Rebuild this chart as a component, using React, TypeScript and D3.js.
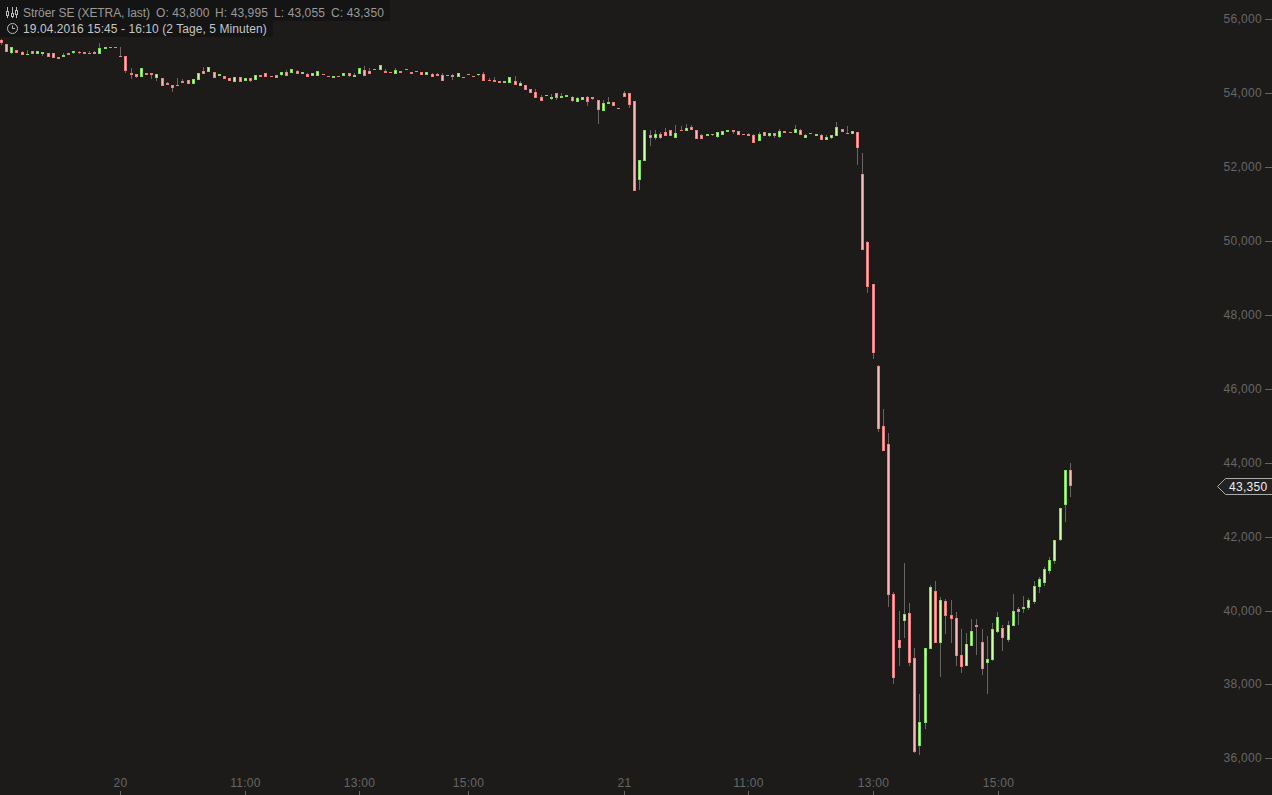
import React from "react";
import * as d3 from "d3";

const opens = [
55.431,55.323,55.080,55.161,55.107,55.026,55.134,55.053,55.053,55.080,
55.080,54.971,54.971,55.080,55.080,55.107,55.107,55.080,55.107,55.053,
55.188,55.242,55.242,54.998,54.998,54.538,54.511,54.430,54.538,54.538,
54.403,54.403,54.268,54.214,54.214,54.322,54.349,54.241,54.349,54.592,
54.565,54.565,54.457,54.457,54.403,54.295,54.430,54.322,54.403,54.349,
54.484,54.538,54.457,54.484,54.484,54.565,54.538,54.592,54.511,54.511,
54.457,54.457,54.511,54.457,54.403,54.457,54.457,54.538,54.430,54.511,
54.620,54.592,54.647,54.620,54.592,54.565,54.511,54.592,54.647,54.565,
54.592,54.565,54.484,54.511,54.511,54.484,54.484,54.484,54.430,54.430,
54.511,54.457,54.484,54.511,54.349,54.349,54.322,54.268,54.268,54.322,
54.186,54.214,54.105,54.024,53.889,53.916,53.835,53.997,53.862,53.889,
53.889,53.753,53.808,53.889,53.889,53.808,53.510,53.699,53.753,53.591,
53.997,53.997,53.780,51.642,52.157,52.860,52.779,52.887,52.942,52.996,
52.779,52.996,52.969,53.077,52.996,52.860,52.833,52.887,52.806,52.860,
52.942,52.996,52.969,52.887,52.887,52.860,52.698,52.942,52.833,52.914,
52.806,52.969,52.942,52.914,52.996,52.779,52.914,52.833,52.860,52.725,
52.779,52.833,53.023,52.914,52.887,52.942,51.805,49.965,48.828,46.609,
44.985,44.498,40.438,39.193,39.707,39.924,38.706,36.324,36.947,38.949,
40.519,39.112,40.249,39.870,39.788,38.787,38.489,39.031,39.599,39.139,
38.571,38.652,39.410,39.518,39.193,39.572,40.032,40.032,40.059,40.222,
40.627,40.736,41.061,41.331,41.899,42.847,43.800];

const closes = [
55.350,55.107,55.242,55.080,55.026,55.053,55.053,55.134,55.107,54.971,
54.944,54.917,55.026,55.026,55.134,55.080,55.053,55.053,55.053,55.215,
55.242,55.215,55.215,54.971,54.592,54.484,54.430,54.674,54.484,54.484,
54.511,54.186,54.214,54.132,54.186,54.268,54.241,54.376,54.538,54.511,
54.701,54.403,54.511,54.376,54.322,54.430,54.295,54.403,54.322,54.484,
54.430,54.430,54.430,54.403,54.565,54.457,54.647,54.511,54.565,54.430,
54.538,54.592,54.484,54.430,54.457,54.430,54.538,54.457,54.484,54.674,
54.457,54.511,54.620,54.755,54.538,54.538,54.620,54.538,54.620,54.511,
54.565,54.484,54.565,54.430,54.457,54.322,54.457,54.430,54.538,54.403,
54.484,54.430,54.511,54.322,54.322,54.295,54.268,54.322,54.430,54.214,
54.268,54.078,53.997,53.862,53.780,53.943,53.889,53.862,53.916,53.943,
53.780,53.862,53.889,53.753,53.835,53.537,53.726,53.753,53.645,53.564,
53.889,53.672,51.345,52.184,52.996,52.779,52.887,52.779,52.833,52.833,
52.914,52.969,53.050,52.996,52.752,52.752,52.887,52.860,52.942,52.969,
52.996,52.942,52.860,52.860,52.833,52.644,52.887,52.833,52.914,52.833,
52.969,52.914,52.914,53.023,52.860,52.860,52.887,52.887,52.725,52.806,
52.860,53.077,52.942,52.887,52.969,52.509,49.748,48.747,46.960,44.904,
44.308,40.411,38.165,38.976,39.897,38.571,36.162,36.974,38.976,40.627,
39.112,40.276,39.843,39.761,38.760,38.462,39.085,39.437,39.545,38.408,
38.679,39.491,39.816,39.247,39.599,39.978,39.951,40.086,40.276,40.655,
40.844,41.115,41.358,41.899,42.766,43.800,43.350];

const highs = [
55.459,55.323,55.242,55.161,55.134,55.161,55.134,55.134,55.107,55.080,
55.080,54.971,55.080,55.080,55.134,55.134,55.107,55.134,55.134,55.350,
55.242,55.242,55.242,55.242,54.998,54.674,54.511,54.674,54.538,54.538,
54.511,54.403,54.295,54.214,54.403,54.376,54.349,54.376,54.538,54.701,
54.701,54.565,54.511,54.457,54.403,54.430,54.430,54.403,54.403,54.484,
54.484,54.538,54.457,54.484,54.565,54.620,54.647,54.620,54.565,54.538,
54.538,54.592,54.511,54.457,54.457,54.457,54.538,54.538,54.538,54.674,
54.728,54.674,54.647,54.755,54.647,54.565,54.674,54.592,54.647,54.565,
54.592,54.565,54.565,54.538,54.538,54.538,54.484,54.511,54.538,54.430,
54.511,54.457,54.511,54.565,54.403,54.430,54.322,54.322,54.430,54.457,
54.322,54.214,54.105,54.105,53.943,53.943,53.970,53.997,53.997,53.943,
53.916,53.889,53.889,53.916,53.889,53.808,53.808,53.889,53.753,53.591,
54.051,53.997,53.780,52.184,52.996,52.996,52.996,52.942,53.050,52.996,
53.131,53.104,53.158,53.131,52.996,52.887,52.887,52.887,52.942,52.969,
52.996,52.996,52.969,52.887,52.914,52.887,52.942,52.942,52.914,52.914,
53.023,52.969,52.942,53.131,53.023,52.887,52.914,52.887,52.887,52.860,
52.860,53.212,53.023,53.104,52.969,52.942,52.373,49.992,48.828,46.636,
45.445,44.795,40.492,39.978,41.277,40.195,38.976,37.732,38.976,40.682,
40.790,40.357,40.303,40.276,39.951,39.491,39.383,39.761,39.761,39.491,
39.301,39.653,39.951,39.599,39.707,40.438,40.086,40.384,40.330,40.790,
40.898,41.169,41.440,41.899,42.766,43.800,43.995];

const lows = [
55.296,55.107,55.053,55.080,55.026,55.026,55.053,55.053,54.998,54.971,
54.944,54.917,54.971,55.026,55.053,55.053,55.053,55.053,55.053,55.053,
55.188,55.215,55.215,54.971,54.538,54.376,54.403,54.430,54.484,54.376,
54.322,54.186,54.214,54.024,54.186,54.268,54.241,54.241,54.349,54.511,
54.565,54.403,54.457,54.376,54.322,54.295,54.295,54.322,54.295,54.349,
54.430,54.430,54.430,54.403,54.457,54.457,54.538,54.511,54.511,54.430,
54.457,54.457,54.484,54.430,54.403,54.430,54.457,54.430,54.430,54.511,
54.457,54.511,54.620,54.620,54.538,54.538,54.511,54.538,54.620,54.511,
54.565,54.484,54.484,54.430,54.457,54.322,54.457,54.349,54.430,54.403,
54.484,54.430,54.457,54.322,54.322,54.295,54.268,54.268,54.268,54.214,
54.186,54.078,53.997,53.862,53.780,53.916,53.808,53.808,53.862,53.889,
53.753,53.753,53.808,53.645,53.808,53.158,53.510,53.699,53.645,53.564,
53.889,53.591,51.345,51.372,52.157,52.563,52.725,52.752,52.833,52.833,
52.779,52.969,52.969,52.996,52.752,52.752,52.833,52.833,52.779,52.860,
52.942,52.887,52.860,52.860,52.833,52.644,52.698,52.833,52.806,52.779,
52.779,52.914,52.914,52.914,52.860,52.779,52.887,52.833,52.725,52.725,
52.752,52.833,52.942,52.887,52.887,52.049,49.748,48.584,46.798,44.822,
44.308,40.086,38.002,38.489,39.247,38.489,36.135,36.081,36.784,38.949,
39.112,38.192,39.355,39.112,38.489,38.300,38.489,39.031,38.787,38.246,
37.732,38.625,39.383,38.895,39.139,39.572,39.599,39.924,40.005,40.167,
40.465,40.655,40.980,41.250,41.872,42.387,43.055];

const priceTicks = [56, 54, 52, 50, 48, 46, 44, 42, 40, 38, 36];
const timeTickIndex = [23, 47, 69, 90, 120, 144, 168, 192];
const timeTickLabels = ["20", "11:00", "13:00", "15:00", "21", "11:00", "13:00", "15:00"];
const lastPrice = 43.35;
const titleParts = ["Ströer SE (XETRA, last)", "O: 43,800", "H: 43,995", "L: 43,055", "C: 43,350"];
const subtitle = "19.04.2016 15:45 - 16:10 (2 Tage, 5 Minuten)";

const W = 1272;
const H = 795;
const FONT = "'Liberation Sans', Arial, sans-serif";
const BG = "#1c1b1a";

export default function App() {
  const x = d3.scaleLinear().domain([0, 206]).range([1.3, 1070.4]);
  const y = d3.scaleLinear().domain([36, 56]).range([758, 19]);
  const fmt = d3.formatLocale({ decimal: ",", thousands: ".", grouping: [3], currency: ["", ""] }).format(".3f");

  return (
    <svg width={W} height={H} viewBox={`0 0 ${W} ${H}`} style={{ position: "fixed", left: 0, top: 0, display: "block", background: BG }} fontFamily={FONT}>
      <rect width={W} height={H} fill={BG} />
      <rect x={0} y={0} width={390} height={21} fill="#141414" />
      <rect x={0} y={21} width={273} height={16} fill="#141414" />

      {/* wicks */}
      {opens.map((_, i) => {
        const col = Math.floor(x(i));
        const t = Math.round(y(highs[i]));
        const b = Math.round(y(lows[i]));
        return <rect key={i} x={col} y={t} width={1} height={Math.max(1, b - t)} fill="#666" />;
      })}
      {/* bodies */}
      {opens.map((o, i) => {
        const c = closes[i];
        const up = c > o;
        const col = Math.floor(x(i));
        const t = Math.round(y(Math.max(o, c)));
        const b = Math.round(y(Math.min(o, c)));
        const h = Math.max(1, b - t);
        return (
          <g key={i}>
            <rect x={col - 1} y={t} width={3} height={h} fill={up ? "#84dc5c" : "#ee8080"} />
            {h > 2 && <rect x={col} y={t + 1} width={1} height={h - 2} fill={up ? "#ccffa8" : "#ffb6b6"} />}
          </g>
        );
      })}

      {/* right axis */}
      {priceTicks.map((p) => {
        const py = Math.round(y(p) + 0.35);
        return (
          <g key={p}>
            <text x={1262} y={py + 4} textAnchor="end" fontSize={12} fill="#666" letterSpacing={0.3}>{fmt(p)}</text>
            <rect x={1265} y={py} width={7} height={1} fill="#666" />
          </g>
        );
      })}

      {/* bottom axis */}
      {timeTickIndex.map((t, i) => {
        const tx = Math.floor(x(t) + 0.3);
        return (
          <g key={i}>
            <text x={tx + 0.5} y={787} textAnchor="middle" fontSize={12} fill="#666" letterSpacing={0.3}>{timeTickLabels[i]}</text>
            <rect x={tx} y={791} width={1} height={4} fill="#666" />
          </g>
        );
      })}

      {/* last price tag */}
      <path
        d={`M1272.5 ${Math.round(y(lastPrice)) - 7.5}H1225.5L1217.5 ${Math.round(y(lastPrice)) + 0.5}L1225.5 ${Math.round(y(lastPrice)) + 8.5}H1272.5`}
        fill="#222"
        stroke="#aaa"
      />
      <text x={1229} y={Math.round(y(lastPrice)) + 5} fontSize={12} fill="#eee" letterSpacing={0.3}>{fmt(lastPrice)}</text>

      {/* title icons */}
      <g stroke="#bbb" fill="none">
        <path d="M7.5 7V18M12.5 7V18M16.5 7V18" />
        <rect x={6.5} y={11.5} width={2} height={4} fill="#141414" />
        <rect x={11.5} y={13.5} width={2} height={3} fill="#141414" />
        <rect x={15.5} y={10.5} width={2} height={4} fill="#141414" />
        <circle cx={12.5} cy={28.5} r={5} />
        <path d="M12.5 25.5V28.5H15" />
      </g>

      {/* title */}
      <text y={17} fontSize={12} fill="#999">
        <tspan x={23} letterSpacing={-0.08}>{titleParts[0]}</tspan>
        <tspan x={156} letterSpacing={0.1}>{titleParts[1]}</tspan>
        <tspan x={215} letterSpacing={0.1}>{titleParts[2]}</tspan>
        <tspan x={274} letterSpacing={0.1}>{titleParts[3]}</tspan>
        <tspan x={331} letterSpacing={0.1}>{titleParts[4]}</tspan>
      </text>
      <text x={23} y={33} fontSize={12} fill="#c4c4c4" letterSpacing={0.07}>{subtitle}</text>
    </svg>
  );
}
